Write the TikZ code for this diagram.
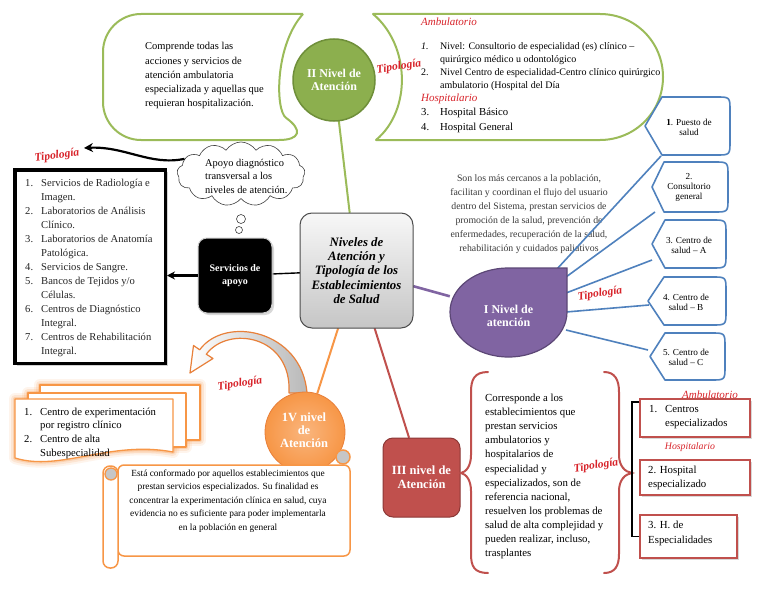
\documentclass[tikz,border=0pt]{standalone}
\usepackage{fontspec}
\setmainfont{Liberation Serif}
\usetikzlibrary{shapes.symbols,shadows,arrows.meta}
\definecolor{gline}{HTML}{9BBB59}
\definecolor{gfill}{HTML}{8CAF4E}
\definecolor{gdark}{HTML}{6F8F3A}
\definecolor{bline}{HTML}{4F81BD}
\definecolor{pfill}{HTML}{8064A2}
\definecolor{pdark}{HTML}{5C4776}
\definecolor{rfill}{HTML}{C0504D}
\definecolor{rdark}{HTML}{8C3836}
\definecolor{ofill}{HTML}{F79646}
\definecolor{odark}{HTML}{E8803A}
\definecolor{tipred}{HTML}{D8232A}
\definecolor{txtgray}{HTML}{3A3A3A}
\newcommand\mylines[1]{\begin{tabular}[t]{@{}l@{}}#1\end{tabular}}
\newcommand\mycenter[1]{\begin{tabular}[t]{@{}c@{}}#1\end{tabular}}
\newcommand\mylist[2]{\begin{tabular}[t]{@{}p{#1}@{}l@{}}#2\end{tabular}}
\newcommand\hexshape[5]{%
\draw[hexline] (#1,{(#4+#5)/2}) -- (#2,#4) -- ({#3-14},#4) .. controls (#3,#4) .. (#3,{#4+14}) -- (#3,{#5-14}) .. controls (#3,#5) .. ({#3-14},#5) -- (#2,#5) -- cycle;}
\begin{document}
\begin{tikzpicture}[x=1pt,y=-1pt,
  pill/.style={draw=gline, line width=2pt, line join=round},
  tipo/.style={font=\fontsize{11.5}{13}\selectfont\bfseries\itshape, text=tipred, inner sep=0pt, rotate=9},
  subred/.style={font=\fontsize{11}{12}\selectfont\itshape, text=tipred, inner sep=0pt},
  title/.style={text=white, font=\fontsize{12}{13}\selectfont\bfseries, align=center, inner sep=0pt},
  body/.style={inner sep=0pt, anchor=base west},
  hexline/.style={draw=bline, line width=1.6pt, fill=white, line join=round},
  hextxt/.style={font=\fontsize{9.2}{10}\selectfont, align=center, inner sep=0pt},
  bluecon/.style={draw=bline, line width=1.6pt},
  redbox/.style={draw=rfill, line width=1.5pt, fill=white, inner sep=0pt, drop shadow={shadow xshift=2pt,shadow yshift=-2pt,fill=black!30}},
  bracered/.style={draw=rfill, line width=2pt, line cap=round},
  docline/.style={draw=ofill, line width=1.3pt, fill=white, line join=round},
  glow/.style={draw=ofill, line join=round}
]
\useasboundingbox (0,0) rectangle (768,594);
\fill[white] (0,0) rectangle (768,594);

% ---------- green pills (II nivel) ----------
\draw[pill, rounded corners=38] (303,14) -- (103,14) -- (103,140) -- (317,140) [sharp corners] .. controls (275,110) and (275,45) .. (303,14);
\draw[pill] (373,14) -- (600,14) .. controls (635,14) and (663,42) .. (663,77) .. controls (663,112) and (635,140) .. (600,140) -- (376,140) .. controls (412,110) and (410,45) .. (373,14) -- cycle;

\node[body, font=\fontsize{10.5}{14.2}\selectfont] (txtII) at (145,50) {\mylines{Comprende todas las\\acciones y servicios de\\atención ambulatoria\\especializada y aquellas que\\requieran hospitalización.}};

\node[subred, anchor=base west] (ambA) at (421,26) {Ambulatorio};
\node[body, font=\fontsize{10}{12.7}\selectfont] (listII) at (421,50) {\mylist{19pt}{\textit{1.} & Nivel: Consultorio de especialidad (es) clínico –\\ & quirúrgico médico u odontológico\\ 2. & Nivel Centro de especialidad-Centro clínico quirúrgico\\ & ambulatorio (Hospital del Día}};
\node[subred, anchor=base west] (hospA) at (421,101) {Hospitalario};
\node[body, font=\fontsize{10.7}{15}\selectfont] (listII2) at (421,115) {\mylist{19pt}{3. & Hospital Básico\\ 4. & Hospital General}};
\node[tipo] (tipoII) at (399,67) {Tipología};

% ---------- connectors from the centre ----------
\node[circle, minimum size=82] (nivelIIpos) at (334,80) {};
\node[minimum width=117, minimum height=89, inner sep=0pt] (nivelIpos) at (508.5,312.5) {};
\node[circle, minimum size=80] (nivelIVpos) at (305,432) {};
\node[minimum width=77, minimum height=79] (nivelIIIpos) at (421.5,477.5) {};
\node[minimum width=74, minimum height=75] (apoyopos) at (235,275.5) {};
\node[minimum width=113, minimum height=115] (centralpos) at (356.5,270.5) {};

\draw[gline, line width=2pt] (centralpos) -- (nivelIIpos);
\draw[black, line width=1.4pt] (centralpos) -- (apoyopos);
\draw[pfill, line width=2.6pt] (centralpos) -- (nivelIpos);
\draw[rfill, line width=2pt] (centralpos) -- (nivelIIIpos);
\draw[ofill, line width=2pt] (centralpos) -- (nivelIVpos);

\node[rounded corners=12, draw=gray!60!black, line width=1pt, top color=gray!6, bottom color=gray!45,
      minimum width=113, minimum height=115, align=center,
      font=\fontsize{12.8}{14.3}\selectfont\bfseries\itshape] (central) at (356.5,270.5)
      {Niveles de\\Atención y\\Tipología de los\\Establecimientos\\de Salud};

\node[circle, fill=gfill, draw=gdark, line width=1.5pt, minimum size=82, title] (nivelII) at (334,80) {II Nivel de\\Atención};

% ---------- servicios de apoyo ----------
\node[cloud, cloud puffs=13, cloud puff arc=115, aspect=2, draw=black!75, fill=white, line width=0.6pt,
      minimum width=128, minimum height=64] (cloud) at (241,174) {};
\node[body, font=\fontsize{10.4}{13.6}\selectfont] (cloudtxt) at (205,166) {\mylines{Apoyo diagnóstico\\transversal a los\\niveles de atención.}};
\node[circle, draw=black!75, fill=white, minimum size=9, inner sep=0pt, line width=0.6pt] (bub1) at (241,219) {};
\node[circle, draw=black!75, fill=white, minimum size=7, inner sep=0pt, line width=0.6pt] (bub2) at (239,230) {};

\node[tipo, rotate=-1] (tipoA) at (57,156) {Tipología};
\coordinate (tipoAend) at (84,148);
\draw[black, line width=2.2pt, -{Stealth[length=9pt,width=9pt]}] (cloud.165) .. controls (150,166) and (125,146) .. (tipoAend);

\node[draw=black, line width=3.5pt, fill=white, minimum width=150.5, minimum height=193.5,
      drop shadow={shadow xshift=2.5pt,shadow yshift=-2.5pt,fill=black!35}] (lista) at (90,266.5) {};
\node[body, font=\fontsize{10.6}{14}\selectfont, text=black!85] (listatxt) at (25,186.5) {\mylist{16pt}{1. & Servicios de Radiología e\\ & Imagen.\\ 2. & Laboratorios de Análisis\\ & Clínico.\\ 3. & Laboratorios de Anatomía\\ & Patológica.\\ 4. & Servicios de Sangre.\\ 5. & Bancos de Tejidos y/o\\ & Células.\\ 6. & Centros de Diagnóstico\\ & Integral.\\ 7. & Centros de Rehabilitación\\ & Integral.}};

\node[rounded corners=9, fill=black, draw=gray!40, line width=1pt, minimum width=74, minimum height=75,
      drop shadow={shadow xshift=2pt,shadow yshift=-2pt,fill=black!30},
      text=white, font=\fontsize{10}{13}\selectfont\bfseries, align=center] (apoyo) at (235,275.5) {Servicios de\\apoyo};
\draw[black, line width=2.2pt, -{Stealth[length=8pt,width=8pt]}] (apoyo.west) -- (apoyo.west -| lista.east);

% ---------- I nivel ----------
\node[font=\fontsize{9.8}{14}\selectfont, text=txtgray, inner sep=0pt, anchor=base] (txtI) at (529,181.5) {\mycenter{Son los más cercanos a la población,\\facilitan y coordinan el flujo del usuario\\dentro del Sistema, prestan servicios de\\promoción de la salud, prevención de\\enfermedades, recuperación de la salud,\\rehabilitación y cuidados paliativos}};

\coordinate (s1) at (557,269);
\coordinate (s2) at (566,277);
\coordinate (s3) at (566,293);
\coordinate (s4) at (566,312);
\coordinate (s5) at (566,330);
\coordinate (e1) at (661,156);
\coordinate (e2) at (655,212);
\coordinate (e3) at (652,260);
\coordinate (e4) at (649,305);
\coordinate (e5) at (648,350);
\draw[bluecon] (s1) -- (e1);
\draw[bluecon] (s2) -- (e2);
\draw[bluecon] (s3) -- (e3);
\draw[bluecon] (s4) -- (e4);
\draw[bluecon] (s5) -- (e5);

\filldraw[fill=pfill, draw=pdark, line width=1.2pt] (567,268) -- (567,312) .. controls (567,336.6) and (540.8,357) .. (508.5,357) .. controls (476.2,357) and (450,336.6) .. (450,312) .. controls (450,287.4) and (476.2,268) .. (508.5,268) -- cycle;
\node[title] (nivelI) at (508.5,316) {I Nivel de\\atención};
\node[tipo] (tipoI) at (600,294) {Tipología};

\hexshape{645}{662}{730}{97}{155}
\hexshape{652}{664}{728}{162}{212}
\hexshape{652}{665}{726}{220}{268}
\hexshape{648}{664}{726}{277}{325}
\hexshape{650}{665}{725}{333}{380}
\node[hextxt] (h1) at (689,127) {\textbf{1}. Puesto de\\salud};
\node[hextxt] (h2) at (689,187) {2.\\Consultorio\\general};
\node[hextxt] (h3) at (689,245) {3. Centro de\\salud – A};
\node[hextxt] (h4) at (686,302) {4. Centro de\\salud – B};
\node[hextxt] (h5) at (686,357) {5. Centro de\\salud – C};

% ---------- III nivel ----------
\node[rounded corners=10, fill=rfill, draw=rdark, line width=1pt, minimum width=77, minimum height=79, title,
      font=\fontsize{12.5}{14}\selectfont\bfseries] (nivelIII) at (421.5,477.5) {III nivel de\\Atención};
\draw[bracered] (488,372) .. controls (474,372) and (471,380) .. (471,392) -- (471,455) .. controls (471,466) and (466,472) .. (461,473) .. controls (466,474) and (471,480) .. (471,491) -- (471,554) .. controls (471,566) and (474,573) .. (488,573);
\draw[bracered] (604,372) .. controls (615,372) and (619,380) .. (619,392) -- (619,455) .. controls (619,466) and (625,472) .. (632,473) .. controls (625,474) and (619,480) .. (619,491) -- (619,554) .. controls (619,566) and (615,573) .. (604,573);
\node[body, font=\fontsize{10.8}{14.1}\selectfont] (txtIII) at (485,401.5) {\mylines{Corresponde a los\\establecimientos que\\prestan servicios\\ambulatorios y\\hospitalarios de\\especialidad y\\especializados, son de\\referencia nacional,\\resuelven los problemas de\\salud de alta complejidad y\\pueden realizar, incluso,\\trasplantes}};
\node[tipo] (tipoIII) at (596,466) {Tipología};

\node[redbox, minimum width=110, minimum height=38] (b1) at (695,418) {};
\node[redbox, minimum width=110, minimum height=35] (b2) at (695,477.5) {};
\node[redbox, minimum width=97, minimum height=43] (b3) at (688.5,536.5) {};
\draw[black, line width=1.6pt] (b1.north west) ++(0,4) -- ++(-7,0) |- (b3.west);
\node[body, font=\fontsize{10.8}{14}\selectfont] (b1t) at (649,412) {\mylist{16pt}{1. & Centros\\ & especializados}};
\node[body, font=\fontsize{10.8}{14}\selectfont] (b2t) at (648,473) {\mylines{2. Hospital\\especializado}};
\node[body, font=\fontsize{10.8}{15}\selectfont] (b3t) at (648,528) {\mylines{3. H. de\\Especialidades}};
\node[subred] (ambB) at (710,395) {Ambulatorio};
\node[subred, font=\fontsize{9.8}{11}\selectfont\itshape] (hospB) at (690,447) {Hospitalario};

% ---------- IV nivel ----------
\draw[odark, line width=1.2pt, left color=white, right color=gray!55, line join=round]
 (307,393) .. controls (302,330) and (225,315) .. (199.7,349.8) -- (193.5,345.5) -- (190,373) -- (213,358.5) -- (206.3,354.2) .. controls (228,325) and (292,335) .. (289,393) -- cycle;
\node[tipo] (tipoIV) at (240,384) {Tipología};

\foreach \w/\o in {12/0.10, 8/0.15, 4/0.25}{
  \draw[glow, line width=\w pt, opacity=\o] (40,385) rectangle (200,440);
  \draw[glow, line width=\w pt, opacity=\o] (28,393) rectangle (186,447);
  \draw[glow, line width=\w pt, opacity=\o] (15,399) -- (173,399) -- (173,452) .. controls (110,440) and (60,472) .. (15,458) -- cycle;
}
\draw[docline] (40,385) rectangle (200,440);
\draw[docline] (28,393) rectangle (186,447);
\draw[docline] (15,399) -- (173,399) -- (173,452) .. controls (110,440) and (60,472) .. (15,458) -- cycle;
\node[body, font=\fontsize{10.7}{13.8}\selectfont] (stacktxt) at (24,415) {\mylist{16pt}{1. & Centro de experimentación\\ & por registro clínico\\ 2. & Centro de alta\\ & Subespecialidad}};

\node[circle, inner color=ofill!70!white, outer color=ofill, draw=odark, line width=0.8pt, minimum size=80] (nivelIV) at (305,432) {};
\node[title, font=\fontsize{12.5}{13}\selectfont\bfseries] (nivelIVt) at (304,430) {1V nivel\\de\\Atención};

% scroll
\draw[ofill, line width=1.5pt, fill=white, rounded corners=6] (118,465) rectangle (350,556);
\draw[ofill, line width=1.5pt, fill=gray!45] (343,457) circle[radius=7pt];
\draw[ofill, line width=1.5pt, fill=white, rounded corners=7] (103,466) rectangle (118,568);
\draw[ofill, line width=1.3pt, fill=gray!45] (111,474) circle[radius=6pt];
\node[font=\fontsize{9.4}{13.5}\selectfont, inner sep=0pt, anchor=base] (scrolltxt) at (228,476) {\mycenter{Está conformado por aquellos establecimientos que\\prestan servicios especializados. Su finalidad es\\concentrar la experimentación clínica en salud, cuya\\evidencia no es suficiente para poder implementarla\\en la población en general}};
\end{tikzpicture}
\end{document}
